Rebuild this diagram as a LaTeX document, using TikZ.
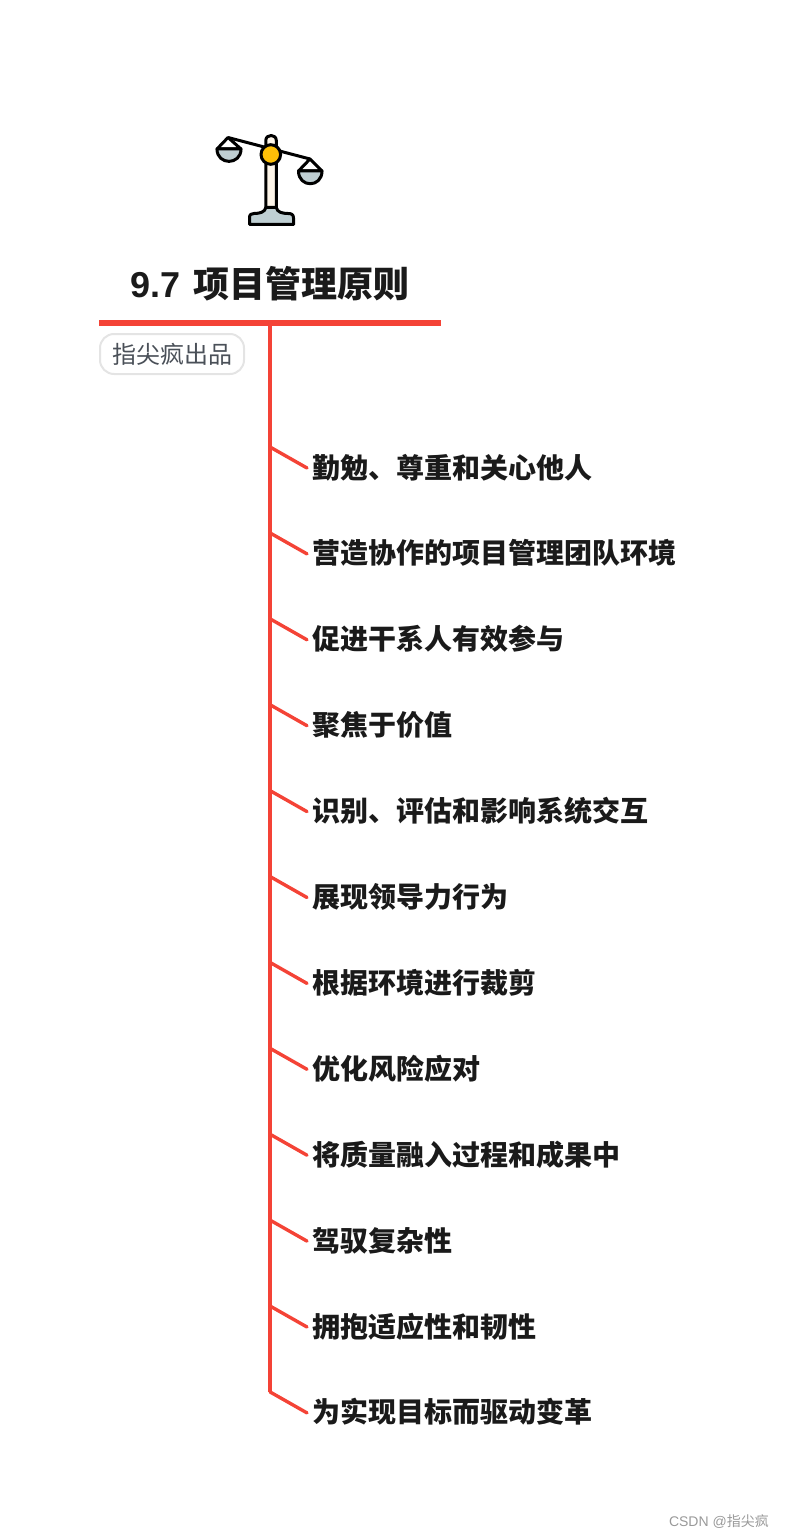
\documentclass[tikz,border=0pt]{standalone}
\usepackage{fontspec}
\setmainfont{Noto Sans CJK SC}
\newfontfamily\latinbf{Liberation Sans}
\newfontfamily\wmfont{Liberation Sans}
\usepackage{xcolor}
\usetikzlibrary{positioning, calc}
\definecolor{branchred}{HTML}{F44336}
\definecolor{inkblack}{HTML}{1A1A1A}
\definecolor{tagink}{HTML}{4A5058}
\definecolor{tagedge}{HTML}{E4E4E4}
\definecolor{panblue}{HTML}{BFCFD3}
\definecolor{pivotgold}{HTML}{FDBF08}
\definecolor{pillarcream}{HTML}{FDF5E9}

\begin{document}
\begin{tikzpicture}[
    x=1pt, y=-1pt,
    titlenode/.style={font=\fontsize{36}{40}\selectfont\bfseries, text=inkblack, inner sep=0pt},
    barnode/.style={fill=branchred, minimum width=341.4pt, minimum height=6pt, inner sep=0pt},
    tagnode/.style={draw=tagedge, line width=2pt, rounded corners=14pt, fill=white,
                    font=\fontsize{24}{28}\selectfont, text=tagink,
                    minimum width=144pt, minimum height=40pt, inner sep=0pt},
    itemnode/.style={font=\fontsize{28}{30}\selectfont\bfseries, text=inkblack,
                     text height=24pt, text depth=4pt, inner ysep=0pt, inner xsep=5pt},
    link/.style={draw=branchred, line width=4pt},
    twig/.style={draw=branchred, line width=3.4pt, line cap=round},
    iconline/.style={draw=black, line width=3pt, line join=round},
]
\useasboundingbox (0,0) rectangle (784,1538);

% Title, bar and tag
\node[titlenode] (title) at (270.2,283.5) {{\latinbf\bfseries 9.7}\hspace{13pt}项目管理原则};
\node[barnode] (bar) at (270,323) {};
\node[tagnode] (tag) at (172,354) {指尖疯出品};

% Items
\node[itemnode, anchor=west] (item1) at (307,468) {勤勉、尊重和关心他人};
\node[itemnode, below=57.5pt of item1.south west, anchor=north west] (item2) {营造协作的项目管理团队环境};
\node[itemnode, below=57.5pt of item2.south west, anchor=north west] (item3) {促进干系人有效参与};
\node[itemnode, below=57.5pt of item3.south west, anchor=north west] (item4) {聚焦于价值};
\node[itemnode, below=57.5pt of item4.south west, anchor=north west] (item5) {识别、评估和影响系统交互};
\node[itemnode, below=57.5pt of item5.south west, anchor=north west] (item6) {展现领导力行为};
\node[itemnode, below=57.5pt of item6.south west, anchor=north west] (item7) {根据环境进行裁剪};
\node[itemnode, below=57.5pt of item7.south west, anchor=north west] (item8) {优化风险应对};
\node[itemnode, below=57.5pt of item8.south west, anchor=north west] (item9) {将质量融入过程和成果中};
\node[itemnode, below=57.5pt of item9.south west, anchor=north west] (item10) {驾驭复杂性};
\node[itemnode, below=57.5pt of item10.south west, anchor=north west] (item11) {拥抱适应性和韧性};
\node[itemnode, below=57.5pt of item11.south west, anchor=north west] (item12) {为实现目标而驱动变革};

% Spine
\coordinate (spineend) at ($(item12.west -| bar.south)+(0,-21)$);
\draw[link] (bar.south) -- (spineend);

% Twigs
\foreach \i in {1,...,12}{
  \coordinate (root\i) at ($(item\i.west -| bar.south)+(0,-21)$);
  \draw[twig] (root\i) -- (item\i.west);
}

% Scales icon
\draw[iconline, fill=pillarcream] (265.8,208) -- (265.8,140.5) .. controls (265.8,133.8) and (276.3,133.8) .. (276.3,140.5) -- (276.3,208) -- cycle;
\draw[iconline, fill=panblue] (249.5,224.5) -- (249.5,218) .. controls (249.5,214.5) and (251,213.5) .. (254,213.5) .. controls (260,213.5) and (265,212) .. (265.8,207.5) -- (276.3,207.5) .. controls (277,212) and (282,213.5) .. (288,213.5) .. controls (291.5,213.5) and (293.5,214.5) .. (293.5,218) -- (293.5,224.5) -- cycle;
\draw[iconline] (228,137.5) -- (310,159);
\draw[iconline, fill=white] (217,149) -- (228,137.5) -- (241,149) -- cycle;
\draw[iconline, fill=panblue] (217,149) .. controls (217,165.5) and (241,165.5) .. (241,149) -- cycle;
\draw[iconline, fill=white] (298.5,171) -- (310,159) -- (322,171) -- cycle;
\draw[iconline, fill=panblue] (298.5,171) .. controls (298.5,188) and (322,188) .. (322,171) -- cycle;
\draw[iconline, fill=pivotgold] (270.8,154.5) circle (9.8);

% Watermark
\node[font=\fontsize{14}{16}\selectfont, text=black!40, anchor=east, inner sep=0pt] (mark) at (769,1522) {{\wmfont CSDN @}指尖疯};
\end{tikzpicture}
\end{document}
